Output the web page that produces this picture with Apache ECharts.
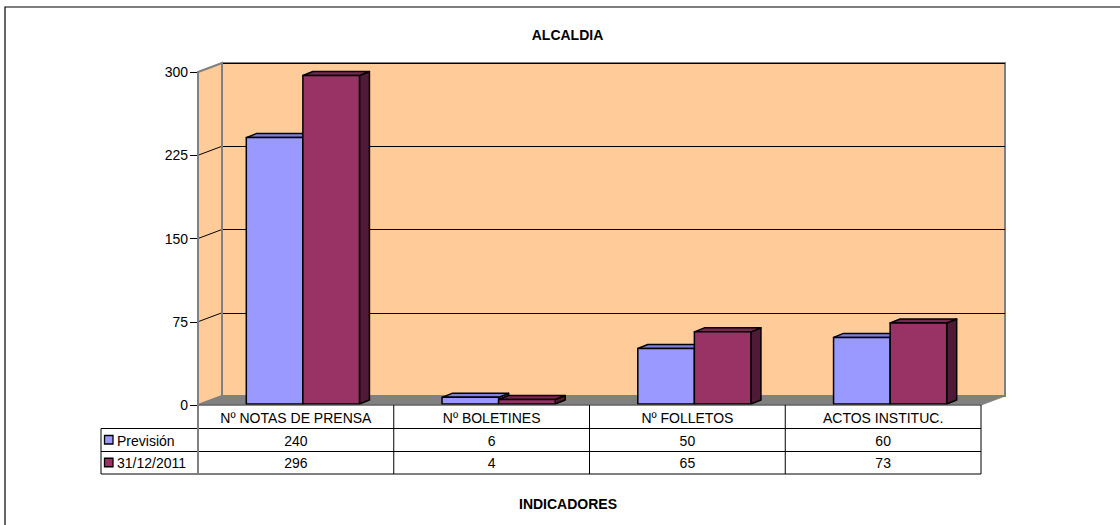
<!DOCTYPE html>
<html><head><meta charset="utf-8">
<script src="https://cdn.jsdelivr.net/npm/echarts@6/dist/echarts.min.js"></script>
<style>html,body{margin:0;padding:0;background:#fff}#c{width:1120px;height:525px}</style>
</head><body><div id="c"></div>
<script>
const categories = ['Nº NOTAS DE PRENSA', 'Nº BOLETINES', 'Nº FOLLETOS', 'ACTOS INSTITUC.'];
const seriesNames = ['Previsión', '31/12/2011'];
const prevision = [240, 6, 50, 60];
const real2011 = [296, 4, 65, 73];
const yTicks = [0, 75, 150, 225, 300];
const titleText = 'ALCALDIA';
const xTitleText = 'INDICADORES';

const FONT = '"Liberation Sans", Arial, sans-serif';
const FS = 14;
const L = 198, T = 72, W = 783, H = 333, DX = 24, DY = 9;
const YMAX = 300;
const colors = [
  {front: '#9999FF', top: '#7F7FE3', side: '#6666B8'},
  {front: '#993366', top: '#7A2852', side: '#4F1A35'}
];
const yF = v => T + H - v / YMAX * H;
const yB = v => yF(v) - DY;

function barRenderer(si) {
  return function (params, api) {
    const i = api.value(0), v = api.value(1);
    const p0 = api.coord([i, 0]);
    const p1 = api.coord([i, v]);
    const cw = api.size([1, 0])[0];
    const bw = cw * 0.289;
    const x0 = p0[0] + 7 + (si === 0 ? -bw : 0);
    const x1 = x0 + bw;
    const yb = p0[1] - 1, yt = p1[1] - 1;
    const dx = 10, dy = 4;
    const c = colors[si];
    const st = {stroke: '#000', lineWidth: 1.5, lineJoin: 'round'};
    return {
      type: 'group',
      children: [
        {type: 'polygon', shape: {points: [[x1, yt], [x1 + dx, yt - dy], [x1 + dx, yb - dy], [x1, yb]]}, style: Object.assign({fill: c.side}, st)},
        {type: 'polygon', shape: {points: [[x0, yt], [x0 + dx, yt - dy], [x1 + dx, yt - dy], [x1, yt]]}, style: Object.assign({fill: c.top}, st)},
        {type: 'rect', shape: {x: x0, y: yt, width: bw, height: yb - yt}, style: Object.assign({fill: c.front}, st)}
      ]
    };
  };
}

const graphics = [];
graphics.push({type: 'rect', shape: {x: 5, y: 7, width: 1300, height: 800}, style: {fill: 'none', stroke: '#000', lineWidth: 1.2}, z: 0});
graphics.push({type: 'polygon', shape: {points: [[L, T], [L + DX, T - DY], [L + DX, T + H - DY], [L, T + H]]}, style: {fill: '#FFCC99', stroke: '#808080', lineWidth: 2}, z: 1});
graphics.push({type: 'polygon', shape: {points: [[L, T + H], [L + DX, T + H - DY], [L + W + DX, T + H - DY], [L + W, T + H]]}, style: {fill: '#808080', stroke: '#808080', lineWidth: 1}, z: 1});
yTicks.forEach(v => {
  if (v > 0 && v < YMAX) {
    graphics.push({type: 'line', shape: {x1: L, y1: yF(v), x2: L + DX, y2: yB(v)}, style: {stroke: '#000', lineWidth: 1}, z: 2});
  }
});
graphics.push({type: 'line', shape: {x1: L + DX, y1: T - DY, x2: L + DX, y2: T + H - DY}, style: {stroke: '#808080', lineWidth: 2}, z: 2});

const rowY = [T + H, 428.5, 451.5, 474];
const colW = W / categories.length;
const tLeft = 101;
const lineStyle = {stroke: '#000', lineWidth: 1};
[1, 2, 3].forEach(r => graphics.push({type: 'line', shape: {x1: tLeft, y1: rowY[r], x2: L + W, y2: rowY[r]}, style: lineStyle, z: 5}));
graphics.push({type: 'line', shape: {x1: L, y1: rowY[0], x2: L + W, y2: rowY[0]}, style: {stroke: '#555', lineWidth: 1.2}, z: 5});
for (let k = 1; k <= categories.length; k++) {
  graphics.push({type: 'line', shape: {x1: L + colW * k, y1: rowY[0], x2: L + colW * k, y2: rowY[3]}, style: lineStyle, z: 5});
}
graphics.push({type: 'line', shape: {x1: L, y1: T, x2: L, y2: rowY[3]}, style: {stroke: '#808080', lineWidth: 2}, z: 5});
graphics.push({type: 'line', shape: {x1: tLeft, y1: rowY[1], x2: tLeft, y2: rowY[3]}, style: lineStyle, z: 5});
categories.forEach((c, k) => {
  graphics.push({type: 'text', x: L + colW * (k + 0.5), y: (rowY[0] + rowY[1]) / 2 + 1, style: {text: c, font: FS + 'px ' + FONT, fill: '#000', textAlign: 'center', textVerticalAlign: 'middle'}, z: 6});
});
[prevision, real2011].forEach((arr, r) => {
  const yc = (rowY[r + 1] + rowY[r + 2]) / 2 + 0.5;
  arr.forEach((v, k) => {
    graphics.push({type: 'text', x: L + colW * (k + 0.5), y: yc, style: {text: String(v), font: FS + 'px ' + FONT, fill: '#000', textAlign: 'center', textVerticalAlign: 'middle'}, z: 6});
  });
  graphics.push({type: 'rect', shape: {x: 104.5, y: yc - 5, width: 8.5, height: 8.5}, style: {fill: colors[r].front, stroke: '#000', lineWidth: 1.3}, z: 6});
  graphics.push({type: 'text', x: 117, y: yc, style: {text: seriesNames[r], font: FS + 'px ' + FONT, fill: '#000', textAlign: 'left', textVerticalAlign: 'middle'}, z: 6});
});

const chart = echarts.init(document.getElementById('c'), null, {renderer: 'svg'});
chart.setOption({
  animation: false,
  backgroundColor: '#fff',
  graphic: graphics.concat([
    {type: 'text', x: 567.5, y: 35, style: {text: titleText, font: 'bold ' + FS + 'px ' + FONT, fill: '#000', textAlign: 'center', textVerticalAlign: 'middle'}, z: 6},
    {type: 'text', x: 568, y: 504, style: {text: xTitleText, font: 'bold ' + FS + 'px ' + FONT, fill: '#000', textAlign: 'center', textVerticalAlign: 'middle'}, z: 6}
  ]),
  grid: [
    {left: L + DX, top: T - DY, width: W, height: H, show: true, backgroundColor: '#FFCC99', borderColor: '#808080', borderWidth: 2, z: 0},
    {left: L, top: T, width: W, height: H, z: 3}
  ],
  xAxis: [
    {type: 'category', gridIndex: 0, data: categories, show: false},
    {type: 'category', gridIndex: 1, data: categories, show: false}
  ],
  yAxis: [
    {type: 'value', gridIndex: 0, min: 0, max: YMAX, interval: 75, axisLabel: {show: false}, axisLine: {show: false}, axisTick: {show: false},
      splitLine: {show: true, lineStyle: {color: '#000', width: 1}}},
    {type: 'value', gridIndex: 1, min: 0, max: YMAX, interval: 75, splitLine: {show: false},
      axisLine: {show: true, lineStyle: {color: '#808080', width: 2}},
      axisTick: {show: true, length: 8, lineStyle: {color: '#000', width: 1}},
      axisLabel: {show: true, margin: 10, color: '#000', fontFamily: FONT, fontSize: FS}}
  ],
  series: [
    {name: seriesNames[0], type: 'custom', xAxisIndex: 1, yAxisIndex: 1, z: 4, renderItem: barRenderer(0), encode: {x: 0, y: 1},
      data: prevision.map((v, i) => [i, v])},
    {name: seriesNames[1], type: 'custom', xAxisIndex: 1, yAxisIndex: 1, z: 4, renderItem: barRenderer(1), encode: {x: 0, y: 1},
      data: real2011.map((v, i) => [i, v])}
  ]
});
</script></body></html>
